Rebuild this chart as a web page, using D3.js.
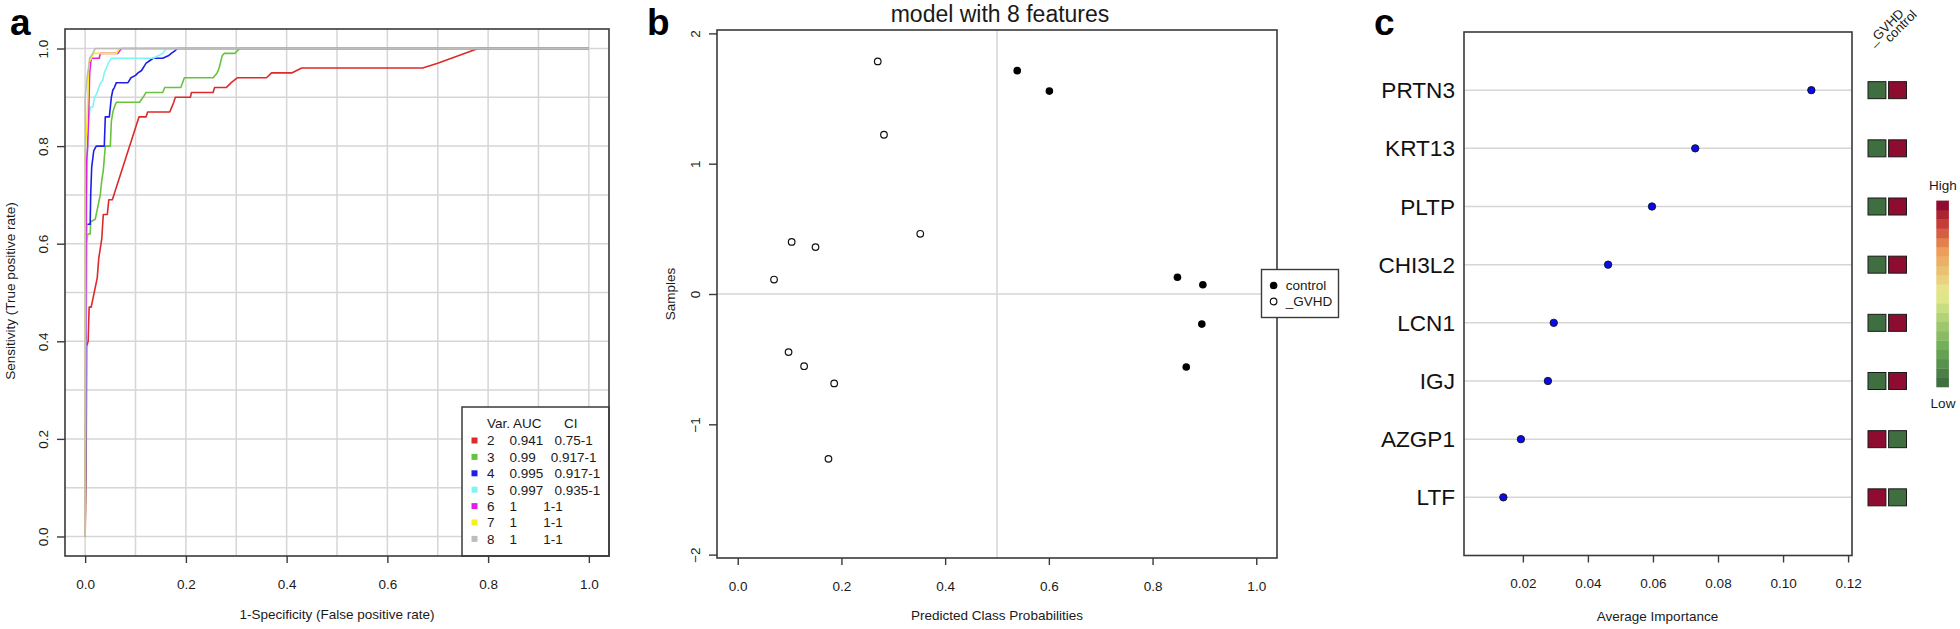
<!DOCTYPE html>
<html>
<head>
<meta charset="utf-8">
<script src="https://cdn.jsdelivr.net/npm/d3@7"></script>
<style>
  body { margin: 0; background: #fff; }
  svg { display: block; font-family: 'Liberation Sans', Arial, sans-serif; }
</style>
</head>
<body>
<div id="chart"></div>
<script>
// ---- panel a: ROC curves by number of variables ----
const rocVars = ['2', '3', '4', '5', '6', '7', '8'];
const rocAuc = ['0.941', '0.99', '0.995', '0.997', '1', '1', '1'];
const rocCi = ['0.75-1', '0.917-1', '0.917-1', '0.935-1', '1-1', '1-1', '1-1'];
const rocColors = ['#dd2a2a', '#66c43c', '#1f1fe8', '#80f4f4', '#e020e0', '#f5f020', '#bdbdbd'];

// [false positive rate, true positive rate]
const rocVar2 = [[0, 0], [0.002, 0.15], [0.003, 0.39], [0.006, 0.40], [0.007, 0.44], [0.008, 0.47], [0.012, 0.47],
  [0.018, 0.50], [0.024, 0.53], [0.027, 0.57], [0.030, 0.59], [0.033, 0.61], [0.036, 0.66], [0.044, 0.66],
  [0.047, 0.69], [0.054, 0.69], [0.107, 0.86], [0.121, 0.86], [0.124, 0.87], [0.168, 0.87], [0.172, 0.88],
  [0.176, 0.89], [0.179, 0.90], [0.209, 0.90], [0.211, 0.91], [0.254, 0.91], [0.257, 0.92], [0.280, 0.92],
  [0.290, 0.93], [0.302, 0.94], [0.360, 0.94], [0.370, 0.95], [0.410, 0.95], [0.430, 0.96], [0.670, 0.96],
  [0.700, 0.97], [0.780, 1.0], [1, 1]];
const rocVar3 = [[0, 0], [0.003, 0.60], [0.005, 0.62], [0.010, 0.62], [0.011, 0.645], [0.020, 0.65], [0.025, 0.675],
  [0.030, 0.70], [0.033, 0.73], [0.036, 0.75], [0.040, 0.80], [0.050, 0.80], [0.052, 0.85], [0.055, 0.87],
  [0.058, 0.88], [0.062, 0.89], [0.108, 0.89], [0.115, 0.90], [0.121, 0.91], [0.154, 0.91], [0.158, 0.92],
  [0.190, 0.92], [0.197, 0.94], [0.254, 0.94], [0.262, 0.95], [0.266, 0.96], [0.272, 0.985], [0.276, 0.99],
  [0.297, 0.99], [0.307, 1.0], [1, 1]];
const rocVar4 = [[0, 0], [0.002, 0.60], [0.003, 0.64], [0.010, 0.64], [0.011, 0.70], [0.013, 0.757], [0.017, 0.79],
  [0.022, 0.80], [0.038, 0.80], [0.040, 0.86], [0.048, 0.86], [0.050, 0.88], [0.052, 0.90], [0.055, 0.915],
  [0.058, 0.92], [0.062, 0.93], [0.085, 0.93], [0.091, 0.94], [0.100, 0.945], [0.105, 0.95], [0.112, 0.955],
  [0.115, 0.96], [0.118, 0.965], [0.121, 0.97], [0.128, 0.975], [0.135, 0.98], [0.154, 0.98], [0.165, 0.985],
  [0.171, 0.99], [0.178, 0.995], [0.183, 1.0], [1, 1]];
const rocVar5 = [[0, 0], [0.003, 0.65], [0.005, 0.81], [0.007, 0.85], [0.010, 0.88], [0.015, 0.88], [0.017, 0.89],
  [0.019, 0.90], [0.024, 0.91], [0.027, 0.92], [0.031, 0.93], [0.035, 0.935], [0.038, 0.95], [0.042, 0.96],
  [0.046, 0.97], [0.052, 0.98], [0.135, 0.98], [0.145, 0.985], [0.154, 0.99], [0.161, 1.0], [1, 1]];
const rocVar6 = [[0, 0], [0.002, 0.69], [0.003, 0.77], [0.005, 0.80], [0.007, 0.87], [0.009, 0.95], [0.012, 0.98],
  [0.028, 0.98], [0.030, 0.99], [0.065, 0.99], [0.072, 1.0], [1, 1]];
const rocVar7 = [[0, 0], [0, 0.79], [0.003, 0.83], [0.005, 0.89], [0.007, 0.97], [0.012, 0.98], [0.017, 0.99],
  [0.062, 0.99], [0.068, 1.0], [1, 1]];
const rocVar8 = [[0, 0], [0, 0.90], [0.005, 0.95], [0.007, 0.96], [0.009, 0.98], [0.015, 0.99], [0.020, 1.0], [1, 1]];
const rocCurves = [rocVar2, rocVar3, rocVar4, rocVar5, rocVar6, rocVar7, rocVar8];

// ---- panel b: predicted class probabilities ----
const gvhdProb = [0.270, 0.282, 0.352, 0.104, 0.150, 0.070, 0.098, 0.128, 0.186, 0.175];
const gvhdSample = [1.785, 1.222, 0.462, 0.400, 0.360, 0.111, -0.446, -0.554, -0.686, -1.265];
const controlProb = [0.539, 0.601, 0.848, 0.897, 0.895, 0.865];
const controlSample = [1.714, 1.557, 0.129, 0.071, -0.231, -0.560];
const sampleTicks = [-2, -1, 0, 1, 2];

// ---- panel c: feature importance ----
const genes = ['PRTN3', 'KRT13', 'PLTP', 'CHI3L2', 'LCN1', 'IGJ', 'AZGP1', 'LTF'];
const importance = [0.1087, 0.0730, 0.0597, 0.0462, 0.0295, 0.0277, 0.0194, 0.0140];
const groups = ['_GVHD', 'control'];
const gvhdLevel = ['Low', 'Low', 'Low', 'Low', 'Low', 'Low', 'High', 'High'];
const controlLevel = ['High', 'High', 'High', 'High', 'High', 'High', 'Low', 'Low'];
const importanceTicks = [0.02, 0.04, 0.06, 0.08, 0.10, 0.12];

const probTicks = [0, 0.2, 0.4, 0.6, 0.8, 1.0];

const W = 1960;
const H = 629;
const boxColor = '#3a3a3a';
const gridColor = '#d6d6d6';
const textColor = '#1a1a1a';
const tickFont = '13.5px';

const svg = d3.select('#chart').append('svg')
  .attr('width', W)
  .attr('height', H);

function styleAxis(g) {
  g.select('.domain').remove();
  g.selectAll('.tick line').attr('stroke', boxColor).attr('stroke-width', 1.4);
  g.selectAll('.tick text').attr('fill', textColor).style('font-size', tickFont)
    .style('font-family', "'Liberation Sans', Arial, sans-serif");
}

// rotate y tick labels like R (reading upward)
function rotateYLabels(g) {
  g.selectAll('.tick text')
    .attr('x', 0)
    .attr('dy', null)
    .attr('text-anchor', 'middle')
    .attr('transform', 'translate(-17,0) rotate(-90)');
}

function panelLabel(text, x, y) {
  svg.append('text')
    .attr('x', x)
    .attr('y', y)
    .style('font-size', '37px')
    .style('font-weight', 'bold')
    .attr('fill', '#000')
    .text(text);
}

// ================= Panel a =================
function drawRoc() {
  const box = { left: 65, right: 609, top: 29, bottom: 556 };
  const x = d3.scaleLinear().domain([-0.04, 1.04]).range([box.left, box.right]);
  const y = d3.scaleLinear().domain([-0.04, 1.04]).range([box.bottom, box.top]);
  const g = svg.append('g');

  // grid
  g.append('g').selectAll('line')
    .data(x.ticks(10))
    .enter().append('line')
    .attr('x1', (d) => x(d)).attr('x2', (d) => x(d))
    .attr('y1', box.top).attr('y2', box.bottom)
    .attr('stroke', gridColor).attr('stroke-width', 1.5);
  g.append('g').selectAll('line')
    .data(y.ticks(10))
    .enter().append('line')
    .attr('y1', (d) => y(d)).attr('y2', (d) => y(d))
    .attr('x1', box.left).attr('x2', box.right)
    .attr('stroke', gridColor).attr('stroke-width', 1.5);

  // curves
  const line = d3.line().x((d) => x(d[0])).y((d) => y(d[1]));
  g.append('g').selectAll('path')
    .data(rocCurves)
    .enter().append('path')
    .attr('d', line)
    .attr('fill', 'none')
    .attr('stroke', (d, i) => rocColors[i])
    .attr('stroke-width', 1.6)
    .attr('stroke-linejoin', 'round');

  // axes
  g.append('g')
    .attr('transform', `translate(0,${box.bottom})`)
    .call(d3.axisBottom(x).tickValues(probTicks).tickFormat(d3.format('.1f')).tickSize(7).tickPadding(16))
    .call(styleAxis);
  g.append('g')
    .attr('transform', `translate(${box.left},0)`)
    .call(d3.axisLeft(y).tickValues(probTicks).tickFormat(d3.format('.1f')).tickSize(8))
    .call(styleAxis)
    .call(rotateYLabels);

  // legend
  const lg = g.append('g');
  lg.append('rect')
    .attr('x', 462).attr('y', 407)
    .attr('width', box.right - 462).attr('height', box.bottom - 407)
    .attr('fill', '#fff').attr('stroke', boxColor).attr('stroke-width', 1.5);
  lg.append('text')
    .attr('x', 487).attr('y', 428)
    .style('font-size', tickFont).style('white-space', 'pre')
    .attr('fill', textColor)
    .text('Var. AUC      CI');
  const rows = lg.selectAll('g.row')
    .data(rocVars)
    .enter().append('g')
    .attr('class', 'row')
    .attr('transform', (d, i) => `translate(0,${440.5 + i * 16.4})`);
  rows.append('rect')
    .attr('x', 471.5).attr('y', -3)
    .attr('width', 6).attr('height', 6)
    .attr('fill', (d, i) => rocColors[i]);
  rows.append('text')
    .attr('x', 487).attr('y', 4.8)
    .style('font-size', tickFont).style('white-space', 'pre')
    .attr('fill', textColor)
    .text((d, i) => `${d}    ${rocAuc[i].padEnd(5)}   ${rocCi[i]}`);

  // frame
  g.append('rect')
    .attr('x', box.left).attr('y', box.top)
    .attr('width', box.right - box.left).attr('height', box.bottom - box.top)
    .attr('fill', 'none').attr('stroke', boxColor).attr('stroke-width', 1.6);

  // titles
  g.append('text')
    .attr('x', 337).attr('y', 619)
    .attr('text-anchor', 'middle')
    .style('font-size', tickFont).attr('fill', textColor)
    .text('1-Specificity (False positive rate)');
  g.append('text')
    .attr('transform', 'translate(15,291) rotate(-90)')
    .attr('text-anchor', 'middle')
    .style('font-size', tickFont).attr('fill', textColor)
    .text('Sensitivity (True positive rate)');

  panelLabel('a', 10, 35);
}

// ================= Panel b =================
function drawProb() {
  const box = { left: 717, right: 1277, top: 30, bottom: 558 };
  const x = d3.scaleLinear().domain([-0.04, 1.04]).range([box.left, box.right]);
  const y = d3.scaleLinear().domain([-2.026, 2.026]).range([box.bottom, box.top]);
  const g = svg.append('g');

  g.append('line')
    .attr('x1', x(0.5)).attr('x2', x(0.5))
    .attr('y1', box.top).attr('y2', box.bottom)
    .attr('stroke', gridColor).attr('stroke-width', 1.5);
  g.append('line')
    .attr('x1', box.left).attr('x2', box.right)
    .attr('y1', y(0)).attr('y2', y(0))
    .attr('stroke', gridColor).attr('stroke-width', 1.5);

  g.append('g').selectAll('circle')
    .data(gvhdProb)
    .enter().append('circle')
    .attr('cx', (d) => x(d))
    .attr('cy', (d, i) => y(gvhdSample[i]))
    .attr('r', 3.3)
    .attr('fill', '#fff')
    .attr('stroke', '#111')
    .attr('stroke-width', 1.2);
  g.append('g').selectAll('circle')
    .data(controlProb)
    .enter().append('circle')
    .attr('cx', (d) => x(d))
    .attr('cy', (d, i) => y(controlSample[i]))
    .attr('r', 3.8)
    .attr('fill', '#000');

  g.append('g')
    .attr('transform', `translate(0,${box.bottom})`)
    .call(d3.axisBottom(x).tickValues(probTicks).tickFormat(d3.format('.1f')).tickSize(7).tickPadding(16))
    .call(styleAxis);
  g.append('g')
    .attr('transform', `translate(${box.left},0)`)
    .call(d3.axisLeft(y).tickValues(sampleTicks).tickFormat(d3.format('d')).tickSize(8))
    .call(styleAxis)
    .call(rotateYLabels);

  g.append('rect')
    .attr('x', box.left).attr('y', box.top)
    .attr('width', box.right - box.left).attr('height', box.bottom - box.top)
    .attr('fill', 'none').attr('stroke', boxColor).attr('stroke-width', 1.6);

  // legend (overlaps the frame, as in the original)
  const lg = g.append('g');
  lg.append('rect')
    .attr('x', 1261.5).attr('y', 269.5)
    .attr('width', 77).attr('height', 48)
    .attr('fill', '#fff').attr('stroke', boxColor).attr('stroke-width', 1.4);
  lg.append('circle').attr('cx', 1273.6).attr('cy', 285.5).attr('r', 3.8).attr('fill', '#000');
  lg.append('circle').attr('cx', 1273.6).attr('cy', 301.5).attr('r', 3.3)
    .attr('fill', '#fff').attr('stroke', '#111').attr('stroke-width', 1.2);
  lg.append('text').attr('x', 1285.8).attr('y', 290.2)
    .style('font-size', tickFont).attr('fill', textColor).text('control');
  lg.append('text').attr('x', 1285.8).attr('y', 306.2)
    .style('font-size', tickFont).attr('fill', textColor).text('_GVHD');

  g.append('text')
    .attr('x', 1000).attr('y', 21.5)
    .attr('text-anchor', 'middle')
    .style('font-size', '23px').attr('fill', textColor)
    .text('model with 8 features');
  g.append('text')
    .attr('x', 997).attr('y', 620)
    .attr('text-anchor', 'middle')
    .style('font-size', tickFont).attr('fill', textColor)
    .text('Predicted Class Probabilities');
  g.append('text')
    .attr('transform', 'translate(675,294) rotate(-90)')
    .attr('text-anchor', 'middle')
    .style('font-size', tickFont).attr('fill', textColor)
    .text('Samples');

  panelLabel('b', 647, 35);
}

// ================= Panel c =================
function drawImportance() {
  const box = { left: 1464, right: 1852, top: 32, bottom: 555.5 };
  const x = d3.scaleLinear().domain([0.0019, 0.1212]).range([box.left, box.right]);
  const y = d3.scalePoint().domain(genes).range([box.top, box.bottom]).padding(1);
  const g = svg.append('g');

  g.append('g').selectAll('line')
    .data(genes)
    .enter().append('line')
    .attr('x1', box.left).attr('x2', box.right)
    .attr('y1', (d) => y(d)).attr('y2', (d) => y(d))
    .attr('stroke', gridColor).attr('stroke-width', 1.5);

  g.append('g').selectAll('circle')
    .data(importance)
    .enter().append('circle')
    .attr('cx', (d) => x(d))
    .attr('cy', (d, i) => y(genes[i]))
    .attr('r', 3.7)
    .attr('fill', '#0a0aee')
    .attr('stroke', '#111')
    .attr('stroke-width', 0.9);

  g.append('g')
    .attr('transform', `translate(0,${box.bottom})`)
    .call(d3.axisBottom(x).tickValues(importanceTicks).tickFormat(d3.format('.2f')).tickSize(7).tickPadding(16))
    .call(styleAxis);

  g.append('g').selectAll('text')
    .data(genes)
    .enter().append('text')
    .attr('x', 1455)
    .attr('y', (d) => y(d))
    .attr('dy', '0.36em')
    .attr('text-anchor', 'end')
    .style('font-size', '22.6px')
    .attr('fill', '#111')
    .text((d) => d);

  g.append('rect')
    .attr('x', box.left).attr('y', box.top)
    .attr('width', box.right - box.left).attr('height', box.bottom - box.top)
    .attr('fill', 'none').attr('stroke', boxColor).attr('stroke-width', 1.6);

  // expression squares
  const hx = d3.scaleBand().domain(groups).range([1868, 1906.5]).paddingInner(0.13);
  const levelColor = { High: '#8e0c2f', Low: '#3f6e40' };
  const levels = [gvhdLevel, controlLevel];
  groups.forEach((grp, gi) => {
    g.append('g').selectAll('rect')
      .data(levels[gi])
      .enter().append('rect')
      .attr('x', hx(grp))
      .attr('y', (d, i) => y(genes[i]) - 8.5)
      .attr('width', hx.bandwidth())
      .attr('height', 17)
      .attr('fill', (d) => levelColor[d])
      .attr('stroke', '#1a1a1a')
      .attr('stroke-width', 1);
  });
  g.append('text')
    .attr('transform', 'translate(1873,46) rotate(-45)')
    .style('font-size', '13px').attr('fill', textColor)
    .text('_GVHD');
  g.append('text')
    .attr('transform', 'translate(1890,43) rotate(-45)')
    .style('font-size', '13px').attr('fill', textColor)
    .text('control');

  // colour key
  const nSteps = 20;
  const keyY = d3.scaleLinear().domain([0, nSteps]).range([387, 200.6]);
  const keyColor = d3.scaleLinear()
    .domain([0, 0.2, 0.5, 0.75, 0.9, 1])
    .range(['#3f6e40', '#6fae58', '#e8ec8e', '#ec9a57', '#c53a35', '#8e0c2f']);
  g.append('g').selectAll('rect')
    .data(d3.range(nSteps))
    .enter().append('rect')
    .attr('x', 1936.3)
    .attr('y', (d) => keyY(d + 1))
    .attr('width', 12.6)
    .attr('height', (d) => keyY(d) - keyY(d + 1) + 0.3)
    .attr('fill', (d) => keyColor(d / (nSteps - 1)));
  g.append('text').attr('x', 1943).attr('y', 190).attr('text-anchor', 'middle')
    .style('font-size', tickFont).attr('fill', textColor).text('High');
  g.append('text').attr('x', 1943).attr('y', 408).attr('text-anchor', 'middle')
    .style('font-size', tickFont).attr('fill', textColor).text('Low');

  g.append('text')
    .attr('x', 1657.5).attr('y', 621)
    .attr('text-anchor', 'middle')
    .style('font-size', tickFont).attr('fill', textColor)
    .text('Average Importance');

  panelLabel('c', 1374, 35);
}

drawRoc();
drawProb();
drawImportance();
</script>
</body>
</html>
